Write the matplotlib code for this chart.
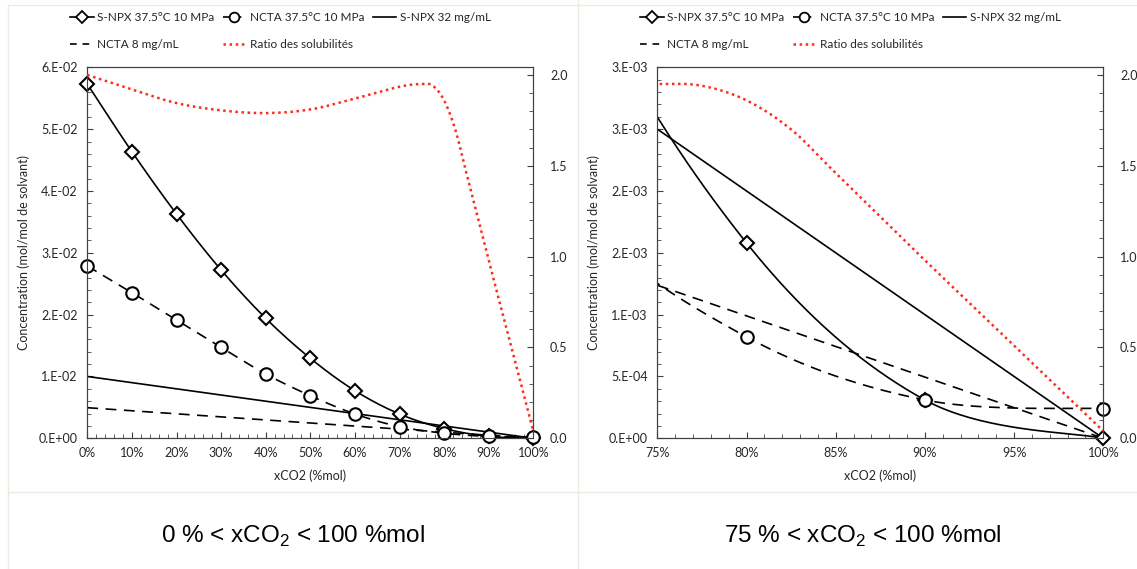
import numpy as np
import matplotlib
matplotlib.use('Agg')
import matplotlib.pyplot as plt
from matplotlib.lines import Line2D
from matplotlib.ticker import MultipleLocator, FixedLocator

# values
xco2 = [0, 10, 20, 30, 40, 50, 60, 70, 80, 90, 100]
snpx_exp = [0.0573, 0.04635, 0.03628, 0.02722, 0.01941, 0.01294, 0.00770, 0.00393, 0.00158, 0.00031, 0.0]
ncta_exp = [0.02787, 0.02355, 0.01913, 0.01472, 0.01040, 0.00689, 0.00393, 0.00188, 0.00082, 0.00031, 0.00024]
line_x = [0, 100]
snpx_32 = [0.0100, 0.0]
ncta_8 = [0.00495, 0.0]
ratio_x = [0, 10, 20, 30, 40, 50, 60, 70, 75, 77.5, 80, 82.5, 85, 90, 95, 100]
ratio = [2.00, 1.92, 1.845, 1.805, 1.79, 1.81, 1.87, 1.935, 1.95, 1.94, 1.86, 1.70, 1.46, 0.98, 0.51, 0.04]

labels = ['S-NPX 37.5°C 10 MPa', 'NCTA 37.5°C 10 MPa', 'S-NPX 32 mg/mL',
          'NCTA 8 mg/mL', 'Ratio des solubilités']

left_xticks = [0, 10, 20, 30, 40, 50, 60, 70, 80, 90, 100]
left_xlabels = ['0%', '10%', '20%', '30%', '40%', '50%', '60%', '70%', '80%', '90%', '100%']
left_yticks = [0, 0.01, 0.02, 0.03, 0.04, 0.05, 0.06]
left_ylabels = ['0.E+00', '1.E-02', '2.E-02', '3.E-02', '4.E-02', '5.E-02', '6.E-02']
right_xticks = [75, 80, 85, 90, 95, 100]
right_xlabels = ['75%', '80%', '85%', '90%', '95%', '100%']
right_yticks = [0, 0.0005, 0.001, 0.0015, 0.002, 0.0025, 0.003]
right_ylabels = ['0.E+00', '5.E-04', '1.E-03', '2.E-03', '2.E-03', '3.E-03', '3.E-03']
ratio_ticks = [0.0, 0.5, 1.0, 1.5, 2.0]
ratio_labels = ['0.0', '0.5', '1.0', '1.5', '2.0']

captions = [r'0 % < xCO$_\mathregular{2}$ < 100 %mol', r'75 % < xCO$_\mathregular{2}$ < 100 %mol']

plt.rcParams['font.family'] = ['Lato', 'DejaVu Sans']
plt.rcParams['mathtext.fontset'] = 'custom'
plt.rcParams['mathtext.rm'] = 'Liberation Sans'

TXT = '#262626'
SPINE = '#404040'
RED = '#FF2A1A'
FS = 9


def smooth(x, y, n=40):
    """Excel-like smoothed line (cubic bezier through the points)"""
    P = np.column_stack([x, y]).astype(float)
    P = np.vstack([P[0], P, P[-1]])
    out = []
    for i in range(1, len(P) - 2):
        p0, p3 = P[i], P[i + 1]
        c1 = p0 + (P[i + 1] - P[i - 1]) / 6.0
        c2 = p3 - (P[i + 2] - P[i]) / 6.0
        t = np.linspace(0, 1, n)[:, None]
        seg = (1 - t)**3 * p0 + 3 * (1 - t)**2 * t * c1 + 3 * (1 - t) * t**2 * c2 + t**3 * p3
        out.append(seg if i == 1 else seg[1:])
    out = np.vstack(out)
    return out[:, 0], out[:, 1]


def draw_panel(ax, xlim, xticks, xlabels, xminor, ylim, yticks, ylabels, yminor):
    x = np.array(xco2)
    keep = x >= xlim[0]

    sx, sy = smooth(xco2, snpx_exp)
    ax.plot(sx, sy, color='black', lw=1.2, zorder=3)
    cx, cy = smooth(xco2, ncta_exp)
    ax.plot(cx, cy, color='black', lw=1.2, ls=(0, (6.5, 4.5)), zorder=3)
    ax.plot(line_x, snpx_32, color='black', lw=1.2, zorder=2)
    ax.plot(line_x, ncta_8, color='black', lw=1.2, ls=(0, (6.5, 4.5)), zorder=2)

    # markers are not clipped at the axes edge, like excel
    ax.plot(x[keep], np.array(snpx_exp)[keep], ls='none', marker='D', ms=7, mfc='white',
            mec='black', mew=1.5, clip_on=False, zorder=5)
    ax.plot(x[keep], np.array(ncta_exp)[keep], ls='none', marker='o', ms=9, mfc='white',
            mec='black', mew=1.5, clip_on=False, zorder=5)

    ax.set_xlim(*xlim)
    ax.set_ylim(*ylim)
    ax.xaxis.set_major_locator(FixedLocator(xticks))
    ax.set_xticklabels(xlabels)
    ax.xaxis.set_minor_locator(MultipleLocator(xminor))
    ax.yaxis.set_major_locator(FixedLocator(yticks))
    ax.set_yticklabels(ylabels)
    ax.yaxis.set_minor_locator(MultipleLocator(yminor))
    ax.tick_params(which='both', direction='in', colors=SPINE, labelcolor=TXT, labelsize=FS)
    ax.tick_params(which='major', length=4)
    ax.tick_params(which='minor', length=3)
    ax.tick_params(axis='y', pad=7)
    ax.tick_params(axis='x', pad=6)
    for s in ax.spines.values():
        s.set_color(SPINE)
    ax.set_xlabel('xCO2 (%mol)', fontsize=FS, color=TXT, labelpad=8)
    ax.set_ylabel('Concentration (mol/mol de solvant)', fontsize=FS, color=TXT, labelpad=6)

    # solubility ratio on the secondary axis
    ax2 = ax.twinx()
    rx, ry = smooth(ratio_x, ratio)
    ax2.plot(rx, ry, color=RED, lw=1.8, ls=(0, (1, 1.45)), zorder=4)
    ax2.set_xlim(*xlim)
    ax2.set_ylim(0, 2.042)
    ax2.yaxis.set_major_locator(FixedLocator(ratio_ticks))
    ax2.set_yticklabels(ratio_labels)
    ax2.yaxis.set_minor_locator(MultipleLocator(0.1))
    ax2.tick_params(which='both', direction='in', colors=SPINE, labelcolor=TXT, labelsize=FS, pad=12)
    ax2.tick_params(which='major', length=4)
    ax2.tick_params(which='minor', length=3)
    for s in ax2.spines.values():
        s.set_color(SPINE)

    # legend, filled row by row like the original (matplotlib fills by column)
    h = [Line2D([], [], color='black', lw=1.2, marker='D', ms=6, mfc='white', mec='black', mew=1.3),
         Line2D([], [], color='black', lw=1.2, ls=(0, (4, 3)), marker='o', ms=7, mfc='white', mec='black', mew=1.3),
         Line2D([], [], color='black', lw=1.2),
         Line2D([], [], color='black', lw=1.2, ls=(0, (4, 3.5))),
         Line2D([], [], color=RED, lw=1.8, ls=(0, (1, 1.45)))]
    order = [0, 3, 1, 4, 2]
    return [h[i] for i in order], [labels[i] for i in order]


fig = plt.figure(figsize=(11.37, 5.69), dpi=100)
fig.patch.set_facecolor('white')

W, H = 1137.0, 569.0
ax_l = fig.add_axes([87.3 / W, 1 - 438.3 / H, 446 / W, 371 / H])
ax_r = fig.add_axes([657.3 / W, 1 - 438.3 / H, 446 / W, 371 / H])

hl, ll = draw_panel(ax_l, (0, 100), left_xticks, left_xlabels, 2, (0, 0.06),
                    left_yticks, left_ylabels, 0.002)
hr, lr = draw_panel(ax_r, (75, 100), right_xticks, right_xlabels, 1, (0, 0.003),
                    right_yticks, right_ylabels, 0.0001)

for hh, ll_, x0 in [(hl, ll, 70), (hr, lr, 640)]:
    fig.legend(hh, ll_, loc='upper left', bbox_to_anchor=(x0 / W, 1 - 12 / H), ncol=3,
               frameon=False, fontsize=8.5, handlelength=2.0, handletextpad=0.3,
               columnspacing=0.7, labelspacing=1.35, borderpad=0, borderaxespad=0,
               labelcolor=TXT)

# light table borders around the two panels
border = '#EBEBE2'
fig.add_artist(Line2D([8 / W, 1], [1 - 492 / H, 1 - 492 / H], color=border, lw=1))
fig.add_artist(Line2D([578 / W, 578 / W], [0, 1], color=border, lw=1))
fig.add_artist(Line2D([8 / W, 8 / W], [0, 1 - 5 / H], color=border, lw=1))
fig.add_artist(Line2D([8 / W, 1], [1 - 5 / H, 1 - 5 / H], color=border, lw=1))

for cx, txt in zip([293, 863], captions):
    fig.text(cx / W, 1 - 536 / H, txt, ha='center', va='center', fontsize=17.5,
             family=['Liberation Sans'], color='black')

fig.savefig('out.png', dpi=100, facecolor='white')
